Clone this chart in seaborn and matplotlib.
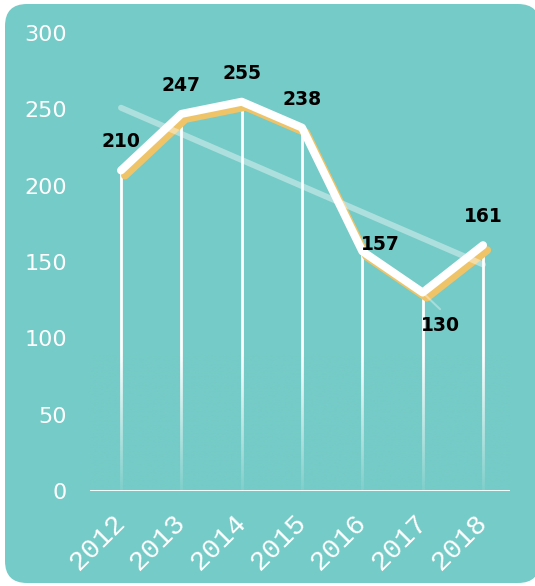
import numpy as np
import pandas as pd
import seaborn as sns
import matplotlib
matplotlib.use("Agg")
import matplotlib.pyplot as plt
import matplotlib.patheffects as pe
from matplotlib.patches import FancyBboxPatch
from matplotlib.colors import to_rgb
from matplotlib.font_manager import FontProperties

years = [2012, 2013, 2014, 2015, 2016, 2017, 2018]
values = [210, 247, 255, 238, 157, 130, 161]
year_labels = ["2012", "2013", "2014", "2015", "2016", "2017", "2018"]
y_ticks = [0, 50, 100, 150, 200, 250, 300]

df = pd.DataFrame({"year": years, "value": values})

teal = "#75cbc7"
orange = "#efc468"

sns.set_style("white", {"axes.facecolor": "none"})
plt.rcParams["font.family"] = ["DejaVu Sans"]

mono = FontProperties(family="Liberation Mono", size=20)

fig = plt.figure(figsize=(5.35, 5.86), dpi=100, facecolor="white")
card = FancyBboxPatch((0.05, 0.03), 5.35, 5.79, boxstyle="round,pad=0,rounding_size=0.22",
                      transform=fig.dpi_scale_trans, facecolor=teal, edgecolor="none", zorder=-5)
fig.patches.append(card)

ax = fig.add_axes([90 / 535, 95 / 586, 420 / 535, 458 / 586])
ax.set_facecolor("none")
ax.set_zorder(2)

# vertical drop lines
ax.vlines(years, 0, values, colors="white", linewidth=2, zorder=2)

# main line with offset orange shadow
sns.lineplot(data=df, x="year", y="value", ax=ax, color="white", linewidth=5.8, zorder=4,
             path_effects=[pe.SimpleLineShadow(offset=(2.9, -3.6), shadow_color=orange, alpha=1),
                           pe.Normal()])

# linear trend line
sns.regplot(data=df, x="year", y="value", ax=ax, scatter=False, ci=None, truncate=True,
            line_kws={"color": "white", "alpha": 0.4, "linewidth": 4.3,
                      "solid_capstyle": "round", "zorder": 5})

ax.set_xlim(2011.486, 2018.447)
ax.set_ylim(0, 300)

# fade the drop lines toward the baseline with a teal gradient veil
fade_top = 90
ramp = np.linspace(0.93, 0.0, 200).reshape(-1, 1)
veil = np.zeros((200, 1, 4))
veil[..., :3] = to_rgb(teal)
veil[..., 3] = ramp
x0, x1 = ax.get_xlim()
ax.imshow(veil, extent=(x0, x1, 0, fade_top), origin="lower", aspect="auto",
          interpolation="bilinear", zorder=3)

ax.axhline(0, color="white", linewidth=2, zorder=3.5)

# data labels
offsets = [(0, 20.5), (0, 20.5), (0, 20.5), (0, 20.5), (13.3, 5), (13, -23.4), (0, 20.5)]
for x, v, off in zip(years, values, offsets):
    ax.annotate(str(v), xy=(x, v), xytext=off, textcoords="offset points",
                ha="center", va="center", fontsize=13.5, fontweight="bold", color="black",
                zorder=6)
# leader line for the 2017 label
ax.annotate("", xy=(years[5], values[5]), xytext=(12.5, -12), textcoords="offset points",
            arrowprops=dict(arrowstyle="-", color="white", alpha=0.35, lw=1.5,
                            shrinkA=0, shrinkB=2), zorder=6)

ax.set_xlim(x0, x1)
ax.set_ylim(0, 300)
ax.set_yticks(y_ticks)
ax.set_yticklabels([str(t) for t in y_ticks], fontsize=16, color="white")
ax.set_xticks(years)
ax.set_xticklabels(year_labels, rotation=45, ha="right", va="center", rotation_mode="anchor",
                   color="white", fontproperties=mono)
ax.tick_params(axis="y", length=0, pad=16.5)
ax.tick_params(axis="x", length=0, pad=20)
ax.set_xlabel("")
ax.set_ylabel("")
sns.despine(ax=ax, left=True, bottom=True)

fig.savefig("out.png", dpi=100, facecolor="white")
